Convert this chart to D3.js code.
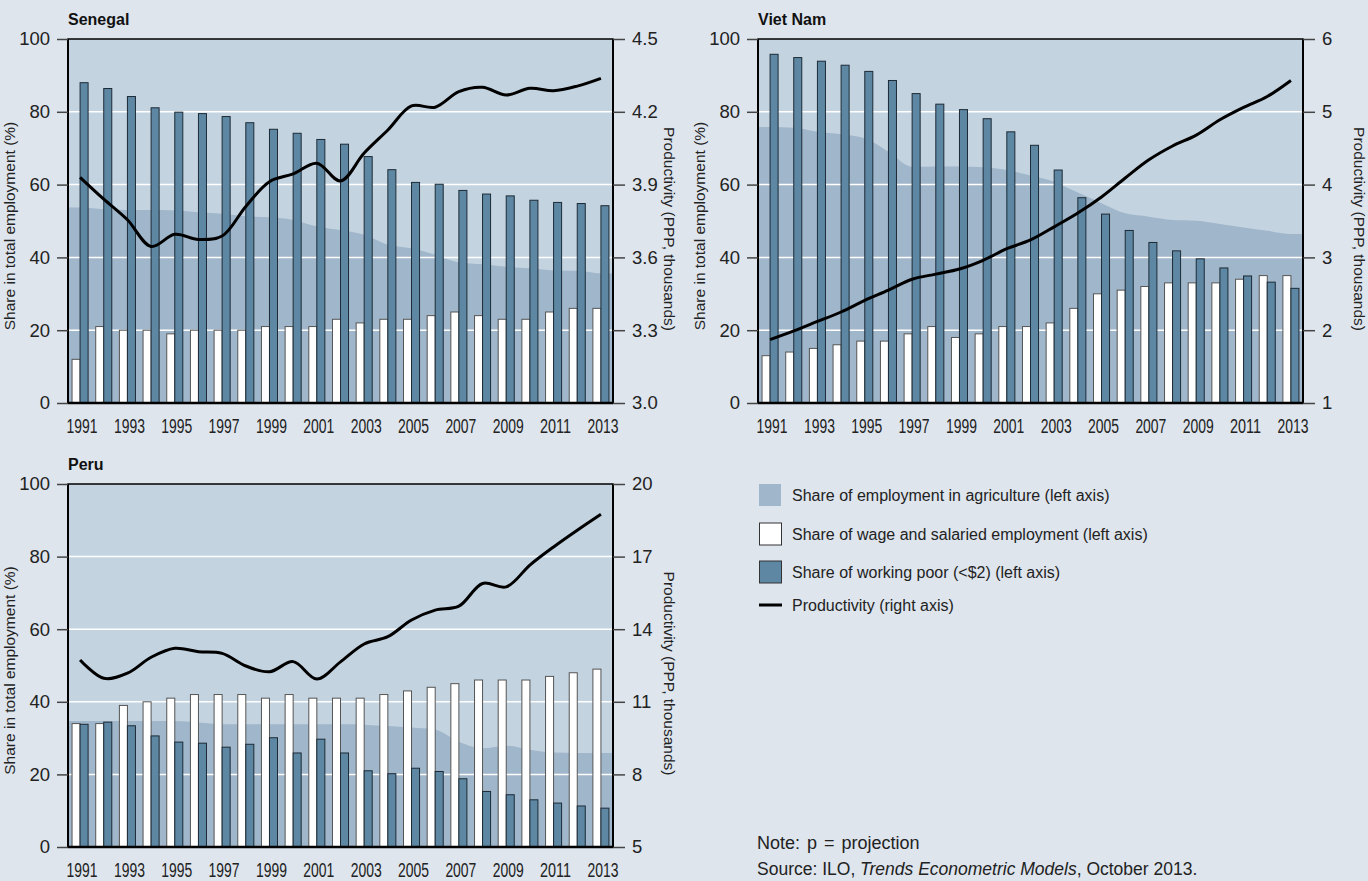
<!DOCTYPE html>
<html><head><meta charset="utf-8">
<script src="https://cdn.jsdelivr.net/npm/d3@7"></script>
<style>
html,body{margin:0;padding:0;background:#dee5ed;}
svg{display:block;}
</style></head><body>
<svg id="chart" width="1368" height="881"></svg>
<script>
// ---------- data ----------
const years = [1991,1992,1993,1994,1995,1996,1997,1998,1999,2000,2001,2002,2003,2004,2005,2006,2007,2008,2009,2010,2011,2012,2013];
const yearTicks = [1991,1993,1995,1997,1999,2001,2003,2005,2007,2009,2011,2013];
const leftTicks = [0,20,40,60,80,100];

const senegalAgri = [53.7,53.2,53.0,53.0,52.9,52.4,52.0,51.3,51.0,50.3,48.5,47.5,46.2,43.5,42.5,40.7,38.6,38.1,37.4,37.0,36.4,36.3,35.6];
const senegalWage = [12,21,20,20,19,20,20,20,21,21,21,23,22,23,23,24,25,24,23,23,25,26,26];
const senegalPoor = [88.0,86.4,84.2,81.1,79.9,79.5,78.7,77.0,75.2,74.1,72.4,71.1,67.7,64.1,60.6,60.1,58.4,57.4,56.9,55.7,55.1,54.8,54.2];
const senegalProd = [3.93,3.84,3.755,3.645,3.695,3.674,3.688,3.81,3.912,3.944,3.988,3.915,4.03,4.125,4.224,4.219,4.283,4.301,4.269,4.297,4.287,4.306,4.338];
const senegalRightTicks = [3.0,3.3,3.6,3.9,4.2,4.5];

const vietAgri = [75.8,75.6,74.5,73.8,72.7,69.0,64.9,65.0,65.0,64.8,64.0,62.5,60.8,57.8,54.9,52.1,51.2,50.3,50.1,49.2,48.2,47.3,46.4];
const vietWage = [13,14,15,16,17,17,19,21,18,19,21,21,22,26,30,31,32,33,33,33,34,35,35];
const vietPoor = [95.8,94.9,93.9,92.8,91.1,88.6,85.0,82.1,80.6,78.1,74.5,70.8,64.0,56.4,51.9,47.4,44.1,41.8,39.6,37.1,34.9,33.2,31.5];
const vietProd = [1.87,1.99,2.12,2.25,2.41,2.55,2.70,2.77,2.84,2.96,3.12,3.24,3.42,3.61,3.83,4.09,4.34,4.53,4.68,4.89,5.06,5.21,5.43];
const vietRightTicks = [1,2,3,4,5,6];

const peruAgri = [34.7,34.7,34.7,34.7,34.7,34.3,33.8,33.8,33.8,33.8,33.8,33.8,33.7,33.3,32.9,32.3,29.0,27.2,27.9,26.8,26.0,25.9,25.9];
const peruWage = [34,34,39,40,41,42,42,42,41,42,41,41,41,42,43,44,45,46,46,46,47,48,49];
const peruPoor = [33.8,34.4,33.4,30.6,28.9,28.6,27.5,28.3,30.1,25.9,29.7,25.9,21.0,20.2,21.7,20.8,18.8,15.3,14.4,13.0,12.1,11.3,10.7];
const peruProd = [12.73,11.97,12.18,12.84,13.21,13.07,13.0,12.48,12.24,12.66,11.94,12.65,13.39,13.69,14.38,14.79,14.95,15.89,15.75,16.65,17.40,18.09,18.75];
const peruRightTicks = [5,8,11,14,17,20];

const legendLabels = [
  "Share of employment in agriculture (left axis)",
  "Share of wage and salaried employment (left axis)",
  "Share of working poor (<$2) (left axis)",
  "Productivity (right axis)"
];

// ---------- style ----------
const C = {
  bg: "#dee5ed", plot: "#c3d3e0", agri: "#a0b6ca", poor: "#5d87a3",
  wage: "#ffffff", grid: "#ffffff", text: "#222222"
};
const FONT = "'Liberation Sans', Arial, sans-serif";

const svg = d3.select("#chart");
svg.append("rect").attr("width",1368).attr("height",881).attr("fill",C.bg);

const panels = [
  {title:"Senegal", x:68, y:39, w:545, h:364, agri:senegalAgri, wage:senegalWage, poor:senegalPoor, prod:senegalProd, rTicks:senegalRightTicks, rFmt:d3.format(".1f")},
  {title:"Viet Nam", x:758, y:39, w:545, h:364, agri:vietAgri, wage:vietWage, poor:vietPoor, prod:vietProd, rTicks:vietRightTicks, rFmt:d3.format("d")},
  {title:"Peru", x:68, y:484, w:545, h:363, agri:peruAgri, wage:peruWage, poor:peruPoor, prod:peruProd, rTicks:peruRightTicks, rFmt:d3.format("d")}
];

panels.forEach(p => {
  const g = svg.append("g").attr("transform", `translate(${p.x},${p.y})`);
  const x = d3.scaleBand().domain(years).range([0,p.w]).paddingInner(0.28).paddingOuter(0.15);
  const y = d3.scaleLinear().domain([0,100]).range([p.h,0]);
  const yr = d3.scaleLinear().domain([p.rTicks[0], p.rTicks[p.rTicks.length-1]]).range([p.h,0]);
  const cx = d => x(d) + x.bandwidth()/2;

  g.append("rect").attr("width",p.w).attr("height",p.h).attr("fill",C.plot);

  // agriculture area spanning full plot
  const areaPts = [[0,p.agri[0]]].concat(years.map((yy,i)=>[cx(yy),p.agri[i]])).concat([[p.w,p.agri[p.agri.length-1]]]);
  g.append("path").datum(areaPts)
    .attr("fill",C.agri)
    .attr("d", d3.area().x(d=>d[0]).y0(y(0)).y1(d=>y(d[1])).curve(d3.curveMonotoneX));

  // gridlines
  g.selectAll("line.grid").data(leftTicks.filter(t=>t>0 && t<100)).enter().append("line")
    .attr("x1",0).attr("x2",p.w).attr("y1",d=>y(d)).attr("y2",d=>y(d))
    .attr("stroke",C.grid).attr("stroke-width",1.5);

  const bw = x.bandwidth()/2;
  // wage bars
  g.selectAll("rect.wage").data(years).enter().append("rect")
    .attr("x",d=>x(d)+0.5).attr("width",bw-0.5)
    .attr("y",(d,i)=>y(p.wage[i])).attr("height",(d,i)=>y(0)-y(p.wage[i]))
    .attr("fill",C.wage).attr("stroke","#555").attr("stroke-width",1);
  // poor bars
  g.selectAll("rect.poor").data(years).enter().append("rect")
    .attr("x",d=>x(d)+bw).attr("width",bw-0.5)
    .attr("y",(d,i)=>y(p.poor[i])).attr("height",(d,i)=>y(0)-y(p.poor[i]))
    .attr("fill",C.poor).attr("stroke","#1d2b36").attr("stroke-width",1);

  // productivity line
  g.append("path").datum(p.prod)
    .attr("fill","none").attr("stroke","#000").attr("stroke-width",3).attr("stroke-linejoin","round")
    .attr("d", d3.line().x((d,i)=>cx(years[i])).y(d=>yr(d)).curve(d3.curveCatmullRom.alpha(0.5)));

  // frame
  g.append("rect").attr("width",p.w).attr("height",p.h).attr("fill","none").attr("stroke","#000").attr("stroke-width",1.5);
  g.append("line").attr("x1",0).attr("x2",0).attr("y1",0).attr("y2",p.h).attr("stroke","#000").attr("stroke-width",2);
  g.append("line").attr("x1",p.w).attr("x2",p.w).attr("y1",0).attr("y2",p.h).attr("stroke","#000").attr("stroke-width",2);
  g.append("line").attr("x1",0).attr("x2",p.w).attr("y1",p.h).attr("y2",p.h).attr("stroke","#000").attr("stroke-width",2.5);

  // left axis
  const la = g.append("g").call(d3.axisLeft(y).tickValues(leftTicks).tickSize(11).tickPadding(7));
  la.select(".domain").remove();
  la.selectAll(".tick line").attr("stroke","#444").attr("stroke-width",1.5);
  la.selectAll(".tick text").attr("font-family",FONT).attr("font-size",18.5).attr("fill",C.text);

  // right axis
  const ra = g.append("g").attr("transform",`translate(${p.w},0)`)
    .call(d3.axisRight(yr).tickValues(p.rTicks).tickFormat(p.rFmt).tickSize(12).tickPadding(7));
  ra.select(".domain").remove();
  ra.selectAll(".tick line").attr("stroke","#444").attr("stroke-width",1.5);
  ra.selectAll(".tick text").attr("font-family",FONT).attr("font-size",18.5).attr("fill",C.text);

  // bottom axis (years) - condensed numerals
  const ba = g.append("g").attr("transform",`translate(0,${p.h})`)
    .call(d3.axisBottom(x).tickValues(yearTicks).tickSize(0).tickPadding(16));
  ba.select(".domain").remove();
  ba.selectAll(".tick text").attr("font-family",FONT).attr("font-size",20).attr("fill",C.text)
    .attr("dx",2).attr("textLength",31).attr("lengthAdjust","spacingAndGlyphs");

  // titles
  g.append("text").attr("x",0).attr("y",-14).text(p.title)
    .attr("font-family",FONT).attr("font-weight","bold").attr("font-size",16).attr("fill","#111");
  g.append("text").attr("transform",`translate(-53,${p.h/2+5}) rotate(-90)`).attr("text-anchor","middle")
    .text("Share in total employment (%)").attr("font-family",FONT).attr("font-size",15.5).attr("fill",C.text);
  g.append("text").attr("transform",`translate(${p.w+51},${p.h/2+8}) rotate(90)`).attr("text-anchor","middle")
    .text("Productivity (PPP, thousands)").attr("font-family",FONT).attr("font-size",15.5).attr("fill",C.text);
});

// legend
const lg = svg.append("g").attr("transform","translate(759,0)");
const rowsY = [495,534,572,605];
lg.append("rect").attr("x",0).attr("y",rowsY[0]-11).attr("width",22).attr("height",22).attr("fill",C.agri);
lg.append("rect").attr("x",0.5).attr("y",rowsY[1]-11).attr("width",22).attr("height",22).attr("fill",C.wage).attr("stroke","#333");
lg.append("rect").attr("x",0.5).attr("y",rowsY[2]-11).attr("width",22).attr("height",22).attr("fill",C.poor).attr("stroke","#333");
lg.append("line").attr("x1",0).attr("x2",23).attr("y1",rowsY[3]).attr("y2",rowsY[3]).attr("stroke","#000").attr("stroke-width",3);
lg.selectAll("text.leg").data(legendLabels).enter().append("text")
  .attr("x",33).attr("y",(d,i)=>rowsY[i]).attr("dy","0.35em").text(d=>d)
  .attr("font-family",FONT).attr("font-size",16).attr("fill",C.text);

// notes
svg.append("text").attr("x",757).attr("y",849).text("Note: p = projection")
  .attr("font-family",FONT).attr("font-size",18).attr("word-spacing",2).attr("fill",C.text);
const src = svg.append("text").attr("x",757).attr("y",875).attr("font-family",FONT).attr("font-size",17.5).attr("fill",C.text);
src.append("tspan").text("Source: ILO, ");
src.append("tspan").attr("font-style","italic").text("Trends Econometric Models");
src.append("tspan").text(", October 2013.");
</script>
</body></html>
